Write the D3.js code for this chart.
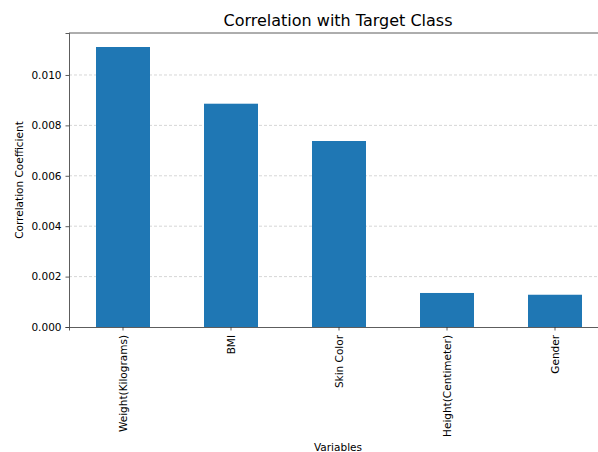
<!DOCTYPE html>
<html>
<head>
<meta charset="utf-8">
<script src="https://cdn.jsdelivr.net/npm/d3@7"></script>
<style>
  body { margin: 0; background: #fff; }
  svg { font-family: "DejaVu Sans", sans-serif; }
</style>
</head>
<body>
<div id="chart"></div>
<script>
const categories = ["Weight(Kilograms)", "BMI", "Skin Color", "Height(Centimeter)", "Gender"];
const values = [0.01111, 0.00886, 0.00738, 0.00135, 0.00128];
const yTicks = [0, 0.002, 0.004, 0.006, 0.008, 0.010];

const W = 598, H = 452;
const margin = { top: 33, left: 69, bottom: 125 };
const plotW = 540; // extends beyond the window on the right
const plotH = H - margin.top - margin.bottom;

const svg = d3.select("#chart").append("svg")
  .attr("width", W).attr("height", H);

const x = d3.scaleBand()
  .domain(categories)
  .range([margin.left, margin.left + plotW])
  .paddingInner(0.5).paddingOuter(0.25);

const y = d3.scaleLinear()
  .domain([0, d3.max(values) * 1.05])
  .range([margin.top + plotH, margin.top]);

// grid
svg.append("g")
  .selectAll("line")
  .data(yTicks.filter(d => d > 0))
  .enter()
  .append("line")
  .attr("x1", margin.left).attr("x2", margin.left + plotW)
  .attr("y1", d => y(d)).attr("y2", d => y(d))
  .style("stroke", "#cccccc")
  .style("stroke-width", 0.8)
  .style("stroke-dasharray", "3,2");

// bars
svg.append("g")
  .selectAll("rect")
  .data(values)
  .enter()
  .append("rect")
  .attr("x", (d, i) => x(categories[i]))
  .attr("width", x.bandwidth())
  .attr("y", d => y(d))
  .attr("height", d => y(0) - y(d))
  .attr("fill", "#1f77b4");

// axes
const yAxis = svg.append("g")
  .attr("transform", `translate(${margin.left},0)`)
  .call(d3.axisLeft(y).tickValues(yTicks).tickFormat(d3.format(".3f")).tickSizeOuter(0).tickSize(3.5).tickPadding(4));

const xAxis = svg.append("g")
  .attr("transform", `translate(0,${margin.top + plotH})`)
  .call(d3.axisBottom(x).tickSizeOuter(0).tickSize(3.5).tickPadding(4));

xAxis.selectAll("text")
  .attr("transform", "rotate(-90)")
  .attr("x", -8).attr("y", 0).attr("dy", "0.35em")
  .style("text-anchor", "end");

[yAxis, xAxis].forEach(a => {
  a.selectAll("text").style("font-size", "10.5px").style("fill", "#000")
    .style("font-family", "DejaVu Sans, sans-serif");
  a.selectAll("line").style("stroke", "#333").style("stroke-width", 0.8);
  a.select(".domain").style("stroke", "#333").style("stroke-width", 0.8);
});

// top spine
svg.append("line")
  .attr("x1", margin.left).attr("x2", margin.left + plotW)
  .attr("y1", margin.top).attr("y2", margin.top)
  .style("stroke", "#333").style("stroke-width", 0.8);

// titles
svg.append("text")
  .attr("x", 338).attr("y", 26)
  .attr("text-anchor", "middle")
  .style("font-size", "16px")
  .text("Correlation with Target Class");

svg.append("text")
  .attr("x", 338).attr("y", 451)
  .attr("text-anchor", "middle")
  .style("font-size", "10.5px")
  .text("Variables");

svg.append("text")
  .attr("transform", `translate(23,${margin.top + plotH / 2}) rotate(-90)`)
  .attr("text-anchor", "middle")
  .style("font-size", "10.5px")
  .text("Correlation Coefficient");
</script>
</body>
</html>
